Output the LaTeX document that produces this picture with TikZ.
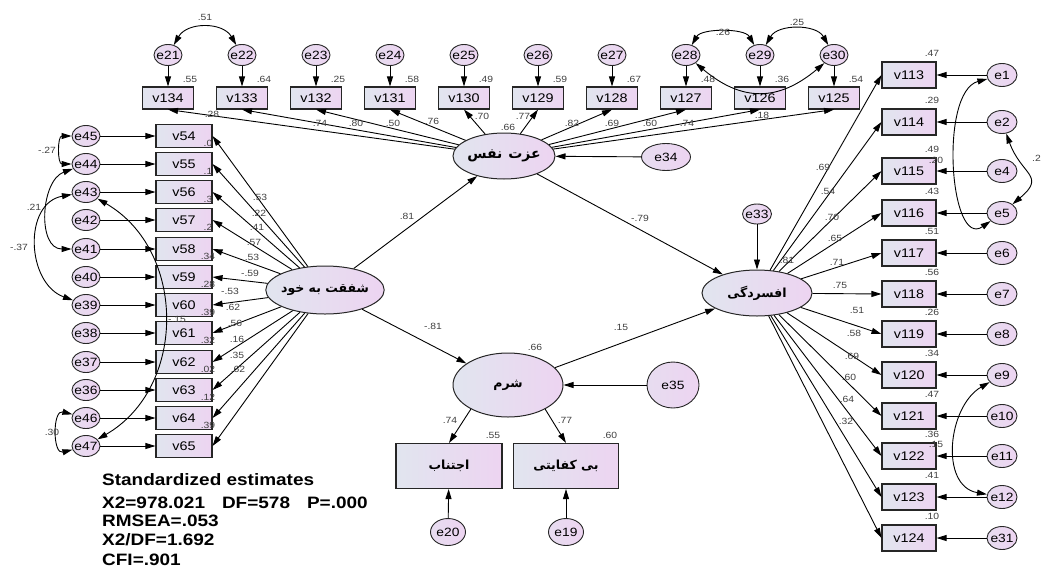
\documentclass[tikz,border=0pt]{standalone}
\usepackage{fontspec}
\setmainfont[FakeStretch=1.15]{Liberation Sans}
\newfontfamily\fafont[Script=Arabic]{DejaVu Sans}
\TeXXeTstate=1
\usetikzlibrary{shapes,arrows.meta,positioning,calc}
\definecolor{shadel}{RGB}{225,229,239}
\definecolor{shader}{RGB}{237,212,241}

\begin{document}
\begin{tikzpicture}[x=1pt, y=1pt,
    obs/.style={rectangle, draw=black!85, line width=1.1pt, left color=shadel, right color=shader, minimum width=54pt, minimum height=24pt, inner sep=0pt, font=\fontsize{12.5}{12.5}\selectfont},
    err/.style={ellipse, draw=black!85, line width=0.9pt, left color=shadel!50!shader, right color=shader, minimum width=28pt, minimum height=21pt, inner xsep=-2pt, inner ysep=0pt, font=\fontsize{12}{12}\selectfont},
    latent/.style={ellipse, draw=black!85, line width=1pt, left color=shadel, right color=shader, inner sep=-2pt, font=\fontsize{12.5}{12.5}\selectfont\fafont\bfseries},
    fatext/.style={font=\fontsize{12.5}{12.5}\selectfont\fafont\bfseries},
    regr/.style={-{Triangle[length=10pt,width=6pt]}, line width=0.9pt},
    cov/.style={{Triangle[length=10pt,width=6pt]}-{Triangle[length=10pt,width=6pt]}, line width=0.9pt},
    est/.style={font=\fontsize{9}{9}\selectfont, text=black!75, inner sep=0pt},
    fitstat/.style={anchor=west, inner sep=0pt, font=\fontsize{16.5}{16.5}\selectfont\bfseries}
]
\useasboundingbox (0,0) rectangle (1043,-568);

% latent variables
\node[latent, minimum width=113pt, minimum height=48pt] (sh) at (325,-290) {\beginR شفقت به خود\endR};
\node[latent, minimum width=102pt, minimum height=46pt, font=\fontsize{14}{14}\selectfont\fafont\bfseries] (ez) at (504,-156) {\beginR عزت\hspace{6pt}نفس\endR};
\node[latent, minimum width=110pt, minimum height=46pt] (af) at (757,-293) {\beginR افسردگی\endR};
\node[latent, minimum width=110pt, minimum height=64pt] (sm) at (508,-385) {\beginR شرم\endR};

% indicators of shame
\node[obs, fatext, minimum width=106pt, minimum height=45pt] (ej) at (449,-466) {\beginR اجتناب\endR};
\node[obs, fatext, minimum width=105pt, minimum height=45pt] (bk) at (566,-466) {\beginR بی کفایتی\endR};

% disturbances
\node[err, minimum width=49pt, minimum height=27pt] (e34) at (666,-157) {e34};
\node[err, minimum width=29pt, minimum height=20pt] (e33) at (757,-214) {e33};
\node[err, minimum width=52pt, minimum height=46pt] (e35) at (673,-385) {e35};
\node[err, minimum width=35pt, minimum height=27pt] (e20) at (448,-532) {e20};
\node[err, minimum width=35pt, minimum height=27pt] (e19) at (566,-532) {e19};

% top row (self-esteem)
\foreach \xx/\vn/\en/\rsq in {168/134/21/.55, 242/133/22/.64, 316/132/23/.25, 390/131/24/.58, 464/130/25/.49, 538/129/26/.59, 612/128/27/.67, 686/127/28/.48, 760/126/29/.36, 834/125/30/.54}{
    \node[obs, minimum width=51pt, minimum height=22pt] (v\vn) at (\xx,-98) {v\vn};
    \node[err] (e\en) at (\xx,-55) {e\en};
    \node[est] at (\xx+22,-79) {\rsq};
    \draw[regr] (e\en) -- (v\vn);
    \draw[regr] (ez) -- (v\vn.south);
}

% left column (self-compassion)
\foreach \yy/\vn/\en/\rsq in {136/54/45/.0, 164/55/44/.1, 192/56/43/.3, 220/57/42/.2, 249/58/41/.34, 277/59/40/.28, 305/60/39/.39, 333/61/38/.32, 362/62/37/.02, 390/63/36/.12, 418/64/46/.39, 446/65/47/{}}{
    \node[obs, minimum width=56pt, minimum height=23pt] (v\vn) at (184,-\yy) {v\vn};
    \node[err] (e\en) at (86,-\yy) {e\en};
    \node[est] at (208,-\yy-7) {\rsq};
    \draw[regr] (e\en) -- (v\vn);
    \draw[regr] (sh) -- (v\vn.east);
}

% right column (depression)
\foreach \yy/\vn/\en/\rsq in {75/113/1/.47, 122/114/2/.29, 171/115/4/.49, 213/116/5/.43, 253/117/6/.51, 294/118/7/.56, 334/119/8/.26, 375/120/9/.34, 416/121/10/.47, 456/122/11/.36, 497/123/12/.41, 538/124/31/.10}{
    \node[obs, minimum height=26pt] (v\vn) at (909,-\yy) {v\vn};
    \node[err, minimum width=30pt, minimum height=23pt] (e\en) at (1002,-\yy) {e\en};
    \node[est] at (932,-\yy+22) {\rsq};
    \draw[regr] (e\en) -- (v\vn);
    \draw[regr] (af) -- (v\vn.west);
}

% structural paths
\draw[regr] (sh) -- (ez);
\draw[regr] (sh) -- (sm);
\draw[regr] (ez) -- (af);
\draw[regr] (sm) -- (af);
\draw[regr] (e34) -- (ez);
\draw[regr] (e33) -- (af);
\draw[regr] (e35) -- (sm);
\draw[regr] (sm.213) -- (ej.north);
\draw[regr] (sm.327) -- (bk.north);
\draw[regr] (e20) -- (ej);
\draw[regr] (e19) -- (bk);

\node[est] at (407,-216) {.81};
\node[est] at (433,-326) {-.81};
\node[est] at (640,-218) {-.79};
\node[est] at (621,-327) {.15};
\node[est] at (535,-347) {.66};
\node[est] at (787,-260) {.81};
\node[est] at (450,-420) {.74};
\node[est] at (493,-435) {.55};
\node[est] at (565,-420) {.77};
\node[est] at (610,-435) {.60};

% loadings, top
\node[est] at (212,-114) {.28};
\node[est] at (320,-123) {.74};
\node[est] at (356,-123) {.80};
\node[est] at (393,-123) {.50};
\node[est] at (432,-121) {.76};
\node[est] at (482,-116) {.70};
\node[est] at (523,-116) {.77};
\node[est] at (508,-127) {.66};
\node[est] at (572,-123) {.82};
\node[est] at (612,-123) {.69};
\node[est] at (650,-123) {.60};
\node[est] at (687,-123) {.74};

% loadings, left
\node[est] at (260,-197) {.53};
\node[est] at (259,-213) {.22};
\node[est] at (257,-227) {.41};
\node[est] at (254,-242) {.57};
\node[est] at (252,-257) {.53};
\node[est] at (250,-273) {-.59};
\node[est] at (230,-291) {-.53};
\node[est] at (233,-307) {.62};
\node[est] at (235,-323) {.56};
\node[est] at (237,-339) {.16};
\node[est] at (237,-355) {.35};
\node[est] at (238,-369) {.62};

% loadings, right
\node[est] at (823,-167) {.69};
\node[est] at (828,-191) {.54};
\node[est] at (832,-217) {.70};
\node[est] at (835,-238) {.65};
\node[est] at (837,-262) {.71};
\node[est] at (840,-285) {.75};
\node[est] at (857,-310) {.51};
\node[est] at (854,-333) {.58};
\node[est] at (852,-356) {.69};
\node[est] at (849,-377) {.60};
\node[est] at (847,-399) {.64};
\node[est] at (846,-421) {.32};

% error covariances
\draw[cov] (e21) to[out=60,in=120,looseness=1.1] (e22);
\node[est] at (205,-17) {.51};
\draw[cov] (e28) to[out=60,in=120,looseness=0.8] (e29);
\node[est] at (723,-32) {.26};
\draw[cov] (e29) to[out=60,in=120] (e30);
\node[est] at (797,-22) {.25};
\draw[cov] (e28) to[out=-40,in=-140,looseness=1.2] (e30);
\node[est] at (762,-115) {.18};

\draw[cov] (e45) to[out=180,in=180,looseness=1.3] (e44);
\node[est] at (47,-150) {-.27};
\draw[cov] (e44) to[out=200,in=180,looseness=1.1] (e41);
\node[est] at (34,-207) {.21};
\draw[cov] (e43) to[out=190,in=160,looseness=1.2] (e39);
\node[est] at (19,-247) {-.37};
\draw[cov] (e43) to[out=-30,in=30,looseness=1.1] (e47);
\node[est] at (177,-319) {-.15};
\draw[cov] (e46) to[out=165,in=195,looseness=1.5] (e47);
\node[est] at (52,-432) {.30};

\draw[cov] (e1) to[out=195,in=215,looseness=0.9] (e5);
\node[est] at (936,-160) {.20};
\draw[cov] (e2) to[out=-70,in=40,looseness=1.6] (e5);
\node[est, anchor=west] at (1032,-158) {.2};
\draw[cov] (e9) to[out=210,in=170,looseness=1.1] (e12);
\node[est] at (936,-444) {.15};

% fit statistics
\node[fitstat] (fit1) at (102,-480) {Standardized estimates};
\node[fitstat] (fit2) at (102,-503) {X2=978.021\hspace{17pt}DF=578\hspace{17pt}P=.000};
\node[fitstat] (fit3) at (102,-521) {RMSEA=.053};
\node[fitstat] (fit4) at (102,-540) {X2/DF=1.692};
\node[fitstat] (fit5) at (102,-560) {CFI=.901};

\end{tikzpicture}
\end{document}
